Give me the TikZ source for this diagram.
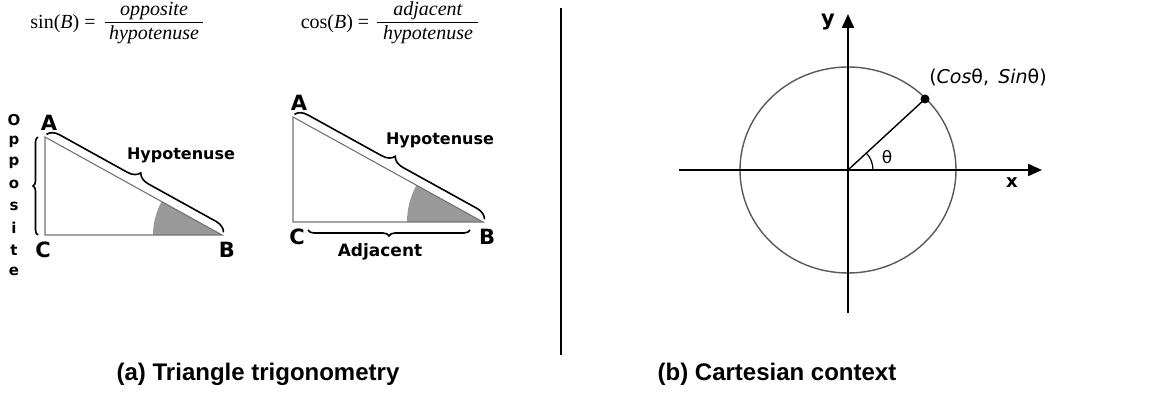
\documentclass[tikz,border=0pt]{standalone}
\usepackage{fontspec}
\setmainfont{Liberation Serif}
\newfontfamily\labfont{DejaVu Sans}
\newfontfamily\capfont{Liberation Sans}
\usetikzlibrary{arrows.meta, decorations.pathreplacing}

\begin{document}
\begin{tikzpicture}[x=1pt, y=1pt,
    side/.style={line width=1.1pt, draw=black!55},
    sector/.style={fill=black!40},
    hbrace/.style={decorate, line width=1.6pt,
      decoration={brace, amplitude=#1, raise=3pt}},
    vertex/.style={font=\labfont\bfseries\fontsize{21}{21}\selectfont},
    lab/.style={font=\labfont\bfseries\fontsize{16}{16}\selectfont},
    eq/.style={font=\fontsize{20}{22}\selectfont, inner sep=0pt},
    axis/.style={line width=2.2pt, -{Triangle[length=14pt, width=12pt]}},
    caption/.style={font=\capfont\bfseries\fontsize{24}{26}\selectfont}]
  \useasboundingbox (0,0) rectangle (1168,396);

  % formeln
  \node[eq] (sinlhs) at (63,372) {sin(\textit{B}) =};
  \node[eq] (sinnum) at (154,385) {\textit{opposite}};
  \node[eq] (sinden) at (154,361) {\textit{hypotenuse}};
  \draw[line width=0.8pt] (105,374) -- (203,374);
  \node[eq] (coslhs) at (335,372) {cos(\textit{B}) =};
  \node[eq] (cosnum) at (428,385) {\textit{adjacent}};
  \node[eq] (cosden) at (428,361) {\textit{hypotenuse}};
  \draw[line width=0.8pt] (377,374) -- (478,374);

  % dreieck 1
  \coordinate (A1) at (45,259);
  \coordinate (C1) at (45,161);
  \coordinate (B1) at (222,161);
  \fill[sector] (B1) -- ++(180:69) arc[start angle=180, end angle=151, radius=69] -- cycle;
  \draw[side] (A1) -- (C1) -- (B1) -- cycle;
  \draw[hbrace=12] (A1) -- (B1);
  \draw[hbrace=5, decoration={raise=7pt}] (C1) -- (A1);
  \node[vertex] (labA1) at (49,273) {A};
  \node[vertex] (labC1) at (43,146) {C};
  \node[vertex] (labB1) at (227,146) {B};
  \node[lab] (hyp1) at (181,241) {Hypotenuse};
  \foreach \ch [count=\i] in {O,p,p,o,s,i,t,e}
    \node[lab, font=\labfont\bfseries\fontsize{15}{15}\selectfont] (opp\i) at (14,298-21.7*\i) {\ch};

  % dreieck 2
  \coordinate (A2) at (293,279);
  \coordinate (C2) at (293,174);
  \coordinate (B2) at (483,174);
  \fill[sector] (B2) -- ++(180:76) arc[start angle=180, end angle=151, radius=76] -- cycle;
  \draw[side] (A2) -- (C2) -- (B2) -- cycle;
  \draw[hbrace=12] (A2) -- (B2);
  \draw[hbrace=6] ([xshift=-13pt, yshift=-5pt]B2) -- ([xshift=15pt, yshift=-5pt]C2);
  \node[vertex] (labA2) at (299,293) {A};
  \node[vertex] (labC2) at (297,159) {C};
  \node[vertex] (labB2) at (487,159) {B};
  \node[lab] (hyp2) at (440,256) {Hypotenuse};
  \node[lab, font=\labfont\bfseries\fontsize{17}{17}\selectfont] (adj2) at (380,144) {Adjacent};

  % trennlinie
  \draw[line width=1.5pt] (561,388) -- (561,41);

  % einheitskreis
  \coordinate (O) at (848,226);
  \coordinate (P) at (925,297);
  \coordinate (xl) at (679,226);
  \coordinate (xr) at (1042,226);
  \coordinate (yb) at (848,83);
  \coordinate (yt) at (848,382);
  \draw[black!65, line width=1.4pt] (O) ellipse [x radius=108, y radius=103];
  \draw[axis] (xl) -- (xr);
  \draw[axis] (yb) -- (yt);
  \draw[line width=1.4pt] (O) -- (P);
  \fill (P) circle (4.5);
  \draw[line width=1.2pt] ([shift={(0:25)}]O) arc[start angle=0, end angle=42.7, radius=25];
  \node[vertex] (ylab) at (828,374) {y};
  \node[lab, font=\labfont\bfseries\fontsize{18}{18}\selectfont] (xlab) at (1012,213) {x};
  \node[font=\labfont\fontsize{17}{17}\selectfont] (thlab) at (887,239) {θ};
  \node[font=\labfont\fontsize{19}{19}\selectfont] (plab) at (988,319) {(\textit{Cos}θ,\, \textit{Sin}θ)};

  % unterschriften
  \node[caption] (capa) at (258,22) {(a) Triangle trigonometry};
  \node[caption] (capb) at (777,22) {(b) Cartesian context};
\end{tikzpicture}
\end{document}
